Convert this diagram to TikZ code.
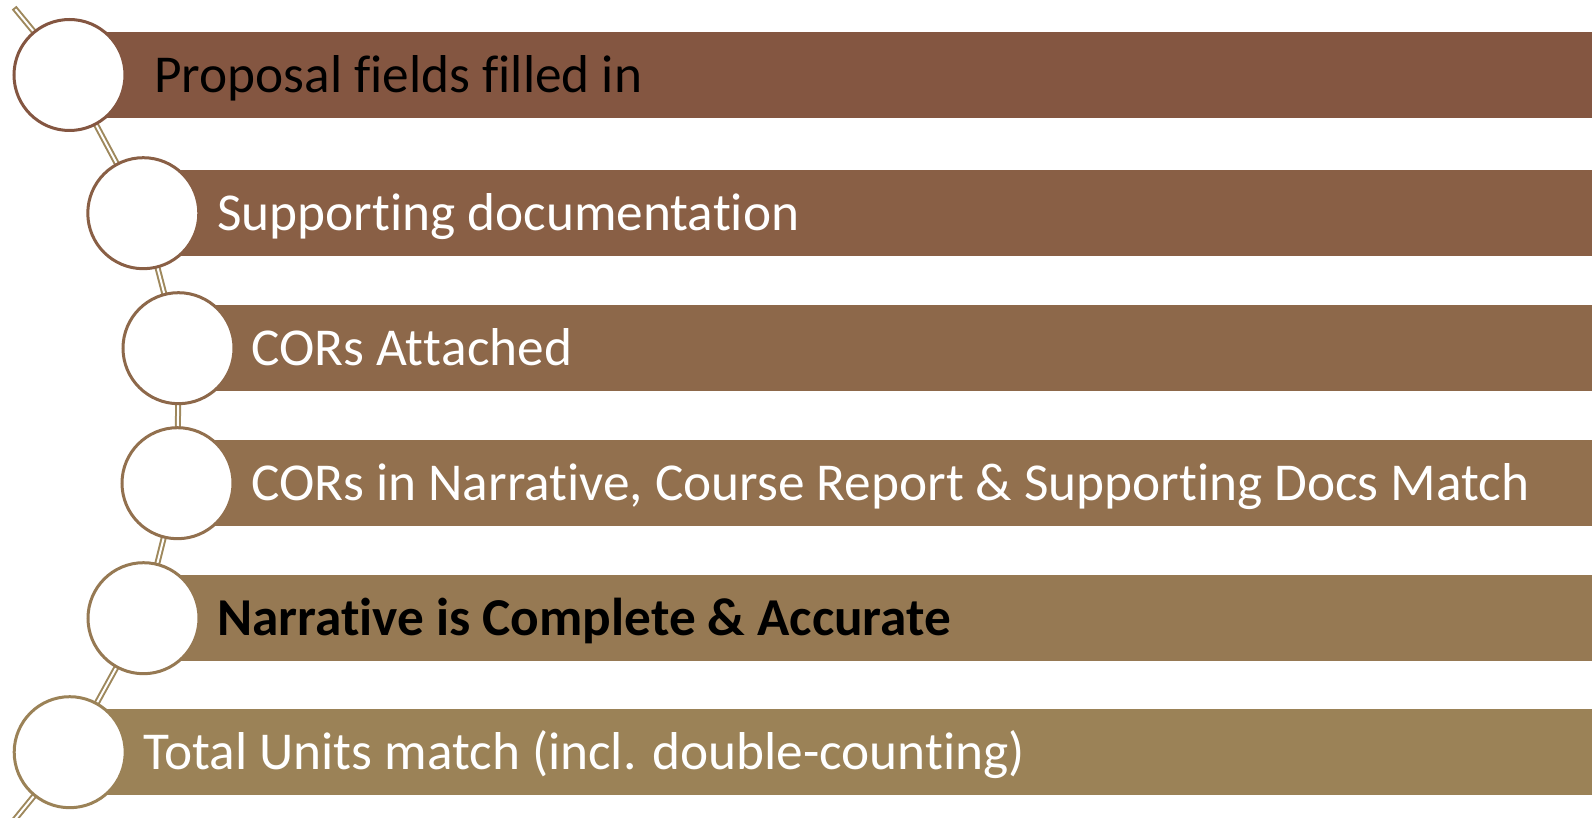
\documentclass[tikz,border=0pt]{standalone}
\usepackage{fontspec}
\setmainfont{Carlito}[Ligatures={NoCommon,NoRare}]
\newcommand{\zbrk}{\kern0pt }
\definecolor{cA}{RGB}{132,86,65}
\definecolor{cB}{RGB}{137,95,69}
\definecolor{cC}{RGB}{141,104,74}
\definecolor{cD}{RGB}{146,112,78}
\definecolor{cE}{RGB}{150,121,83}
\definecolor{cF}{RGB}{155,130,87}
\definecolor{chaincol}{RGB}{158,136,92}
\tikzset{
  barbox/.style={anchor=west, inner sep=0pt, minimum height=86.5pt, draw=none},
  ring/.style={circle, fill=white, line width=3pt, minimum size=111pt, inner sep=0pt},
  label/.style={anchor=base west, inner sep=0pt, font=\fontsize{53.3}{60}\selectfont},
  chain/.style={draw=chaincol, line width=2pt, double=white, double distance=2pt, line cap=rect},
}
\begin{document}
\begin{tikzpicture}[x=1pt,y=-1pt]
\useasboundingbox (0,0) rectangle (1592,818);
\clip (0,0) rectangle (1592,818);
\coordinate (top) at (16,10);
\coordinate (p1) at (69.5,75);
\coordinate (p2) at (143.3,213.2);
\coordinate (p3) at (178.5,348.2);
\coordinate (p4) at (177.5,483.2);
\coordinate (p5) at (143.5,618.2);
\coordinate (p6) at (69.7,752.2);
\coordinate (bot) at (16,818);
\draw[chain] (top) -- (p1) -- (p2) -- (p3) -- (p4) -- (p5) -- (p6) -- (bot);
\node[barbox, fill=cA, minimum width=1592pt-69.5pt] (b1) at (p1) {};
\node[barbox, fill=cB, minimum width=1592pt-143.3pt] (b2) at (p2) {};
\node[barbox, fill=cC, minimum width=1592pt-178.5pt] (b3) at (p3) {};
\node[barbox, fill=cD, minimum width=1592pt-177.5pt] (b4) at (p4) {};
\node[barbox, fill=cE, minimum width=1592pt-143.5pt] (b5) at (p5) {};
\node[barbox, fill=cF, minimum width=1592pt-69.7pt] (b6) at (p6) {};
\node[ring, draw=cA] (k1) at (p1) {};
\node[ring, draw=cB] (k2) at (p2) {};
\node[ring, draw=cC] (k3) at (p3) {};
\node[ring, draw=cD] (k4) at (p4) {};
\node[ring, draw=cE] (k5) at (p5) {};
\node[ring, draw=cF] (k6) at (p6) {};
\node[label, text=black] (t1) at (154,75+17.5) {Proposal f\zbrk ields f\zbrk il\zbrk led in};
\node[label, text=white] (t2) at (217,213.2+17.5) {Suppor\zbrk t\zbrk ing documentat\zbrk ion};
\node[label, text=white] (t3) at (251,348.2+17.5) {CORs At\zbrk t\zbrk ached};
\node[label, text=white] (t4) at (251,483.2+17.5) {CORs in Narrat\zbrk ive, Course Report \& Suppor\zbrk t\zbrk ing Docs Match};
\node[label, text=black, font=\fontsize{53.3}{60}\selectfont\bfseries] (t5) at (217,618.2+17.5) {Narrat\zbrk ive is Complete \& Accurate};
\node[label, text=white] (t6) at (143,752.2+17.5) {Total Units match (incl. double-count\zbrk ing)};
\end{tikzpicture}
\end{document}
